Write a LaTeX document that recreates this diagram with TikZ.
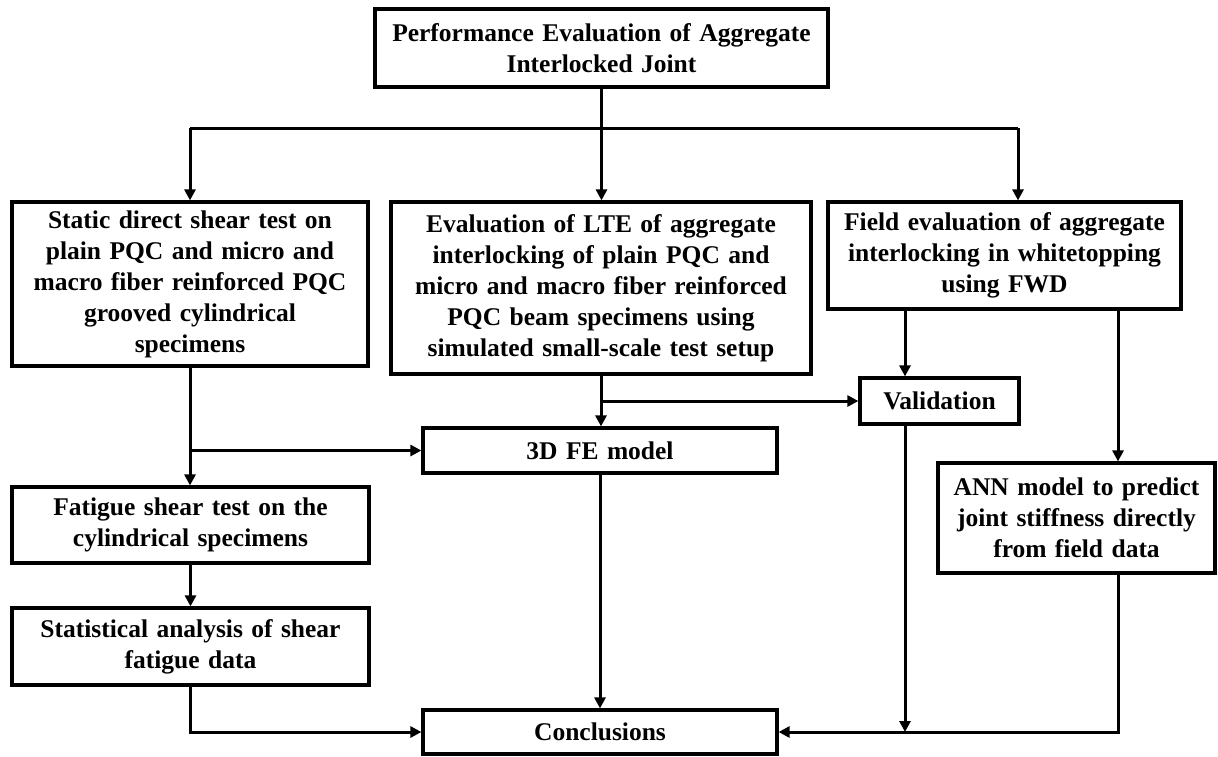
\documentclass[tikz,border=0pt]{standalone}
\usepackage{fontspec}
\setmainfont{Liberation Serif}
\usetikzlibrary{arrows.meta,calc}
\newcommand\myboxfont{\bfseries\fontsize{25.5}{31}\selectfont\spaceskip=0.33em plus 0.1em minus 0.05em\relax}
\begin{document}
\begin{tikzpicture}[x=1pt,y=-1pt,
  box/.style={draw=black,line width=3.2pt,fill=white,align=center,inner sep=0pt,
    font=\myboxfont},
  link/.style={line width=3pt,draw=black},
  arr/.style={link,-{Triangle[length=11pt,width=11pt]}}]
\useasboundingbox (0,0) rectangle (1218,756);
% boxes
\node[box,minimum width=453pt,minimum height=78pt] (top) at (601.5,48) {Performance Evaluation of Aggregate\\Interlocked Joint};
\node[box,minimum width=356pt,minimum height=164pt] (l1) at (190,284) {Static direct shear test on\\plain PQC and micro and\\macro fiber reinforced PQC\\grooved cylindrical\\specimens};
\node[box,minimum width=420pt,minimum height=172pt] (m1) at (601,288) {Evaluation of LTE of aggregate\\interlocking of plain PQC and\\micro and macro fiber reinforced\\PQC beam specimens using\\simulated small-scale test setup};
\node[box,minimum width=353pt,minimum height=107pt] (r1) at (1004.5,255.5) {Field evaluation of aggregate\\interlocking in whitetopping\\using FWD};
\node[box,minimum width=159pt,minimum height=46pt] (val) at (939.5,401) {Validation};
\node[box,minimum width=354pt,minimum height=45pt] (fe) at (600,450.5) {3D FE model};
\node[box,minimum width=357pt,minimum height=76pt] (fat) at (190.5,525) {Fatigue shear test on the\\cylindrical specimens};
\node[box,minimum width=357pt,minimum height=77pt] (stat) at (190.5,646.5) {Statistical analysis of shear\\fatigue data};
\node[box,minimum width=277pt,minimum height=110pt] (ann) at (1076.5,518) {ANN model to predict\\joint stiffness directly\\from field data};
\node[box,minimum width=354pt,minimum height=44pt] (conc) at (600,732) {Conclusions};
% helper coordinates
\coordinate (hl) at (190,128);
\coordinate (hr) at (1018,128);
\coordinate (vx) at (905,0);
\coordinate (ax) at (1118,0);
\coordinate (lb) at (190,450.5);
\coordinate (mb) at (601,401);
% connectors
\draw[arr] (top.south) -- (top.south |- m1.north);
\draw[link] (hl) -- (hr);
\draw[arr] (hl) -- (hl |- l1.north);
\draw[arr] (hr) -- (hr |- r1.north);
\draw[arr] (l1.south) -- (l1.south |- fat.north);
\draw[arr] (lb) -- (fe.west);
\draw[arr] (fat.south) -- (fat.south |- stat.north);
\draw[arr] (stat.south) |- (conc.west);
\draw[arr] (m1.south) -- (m1.south |- fe.north);
\draw[arr] (mb) -- (val.west);
\draw[arr] (vx |- r1.south) -- (vx |- val.north);
\draw[arr] (ax |- r1.south) -- (ax |- ann.north);
\draw[arr] (fe.south) -- (conc.north);
\draw[arr] (vx |- val.south) -- (vx |- conc.east);
\draw[arr] (ax |- ann.south) |- (conc.east);
\end{tikzpicture}
\end{document}
